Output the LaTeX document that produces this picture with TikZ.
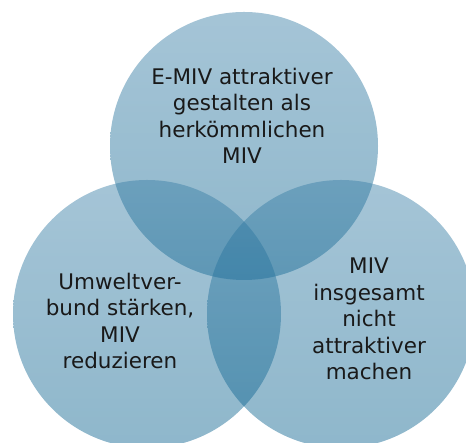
\documentclass[tikz,border=0pt]{standalone}
\usepackage{fontspec}
\setmainfont{DejaVu Sans}
\definecolor{ringtop}{RGB}{55,125,165}
\definecolor{ringbot}{RGB}{5,95,140}
\tikzset{
	ring/.style={top color=ringtop, bottom color=ringbot, fill opacity=0.45},
	aim/.style={align=center, inner sep=0pt, text=black!90, font={\fontsize{21.5}{26.5}\selectfont}}
}

\begin{document}
\begin{tikzpicture}[x=1pt,y=1pt]
	\useasboundingbox (0,0) rectangle (466,443);
	\clip (0,0) rectangle (466,443);
	\shade[ring] (244,297) circle(134);
	\shade[ring] (147,129) circle(134);
	\shade[ring] (341,129) circle(134);
	\node[aim] (emiv) at (242,327) {E-MIV attraktiver\\gestalten als\\herkömmlichen\\MIV};
	\node[aim] (umwelt) at (120,122) {Umweltver-\\bund stärken,\\MIV\\reduzieren};
	\node[aim] (miv) at (369,124) {MIV\\insgesamt\\nicht\\attraktiver\\machen};
\end{tikzpicture}
\end{document}
